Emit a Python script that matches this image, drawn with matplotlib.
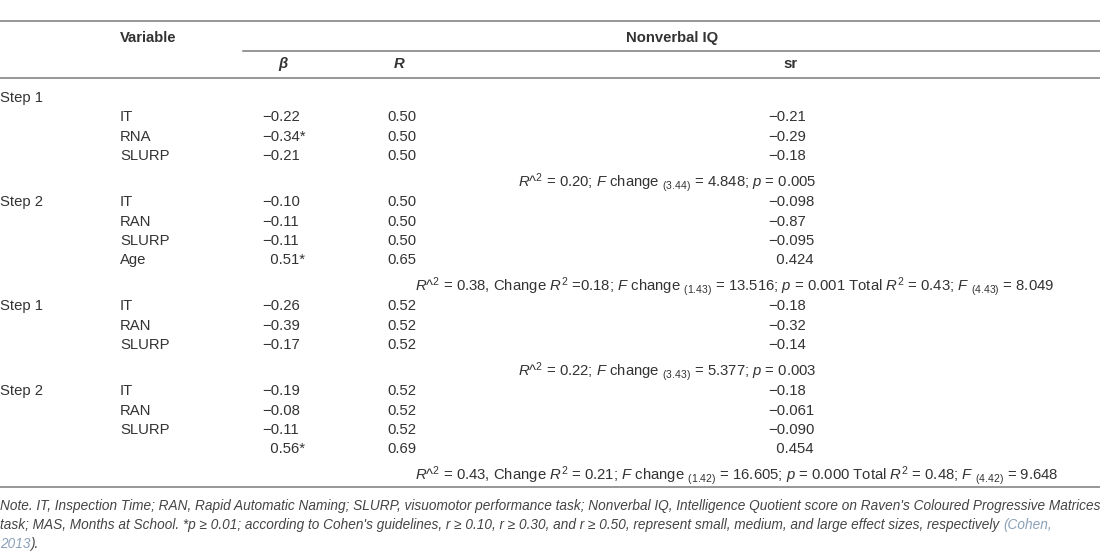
import matplotlib
matplotlib.use("Agg")
import matplotlib.pyplot as plt

plt.rcParams['font.family'] = ['Liberation Sans', 'DejaVu Sans']
plt.rcParams['mathtext.fontset'] = 'custom'
plt.rcParams['mathtext.rm'] = 'Liberation Sans'
plt.rcParams['mathtext.it'] = 'Liberation Sans:italic'
plt.rcParams['mathtext.bf'] = 'Liberation Sans:bold'

# ---- table data ----
step_labels = ["Step 1", "Step 2", "Step 1", "Step 2"]
block_vars = [
    ["IT", "RNA", "SLURP"],
    ["IT", "RAN", "SLURP", "Age"],
    ["IT", "RAN", "SLURP"],
    ["IT", "RAN", "SLURP", ""],
]
block_beta = [
    ["−0.22", "−0.34*", "−0.21"],
    ["−0.10", "−0.11", "−0.11", "0.51*"],
    ["−0.26", "−0.39", "−0.17"],
    ["−0.19", "−0.08", "−0.11", "0.56*"],
]
block_R = [
    ["0.50", "0.50", "0.50"],
    ["0.50", "0.50", "0.50", "0.65"],
    ["0.52", "0.52", "0.52"],
    ["0.52", "0.52", "0.52", "0.69"],
]
block_sr = [
    ["−0.21", "−0.29", "−0.18"],
    ["−0.098", "−0.87", "−0.095", "0.424"],
    ["−0.18", "−0.32", "−0.14"],
    ["−0.18", "−0.061", "−0.090", "0.454"],
]
block_summary = [
    r"$R$^${}^{2}$ = 0.20; $F$ change ${}_{(3.44)}$ = 4.848; $p$ = 0.005",
    r"$R$^${}^{2}$ = 0.38, Change $R^{2}$ =0.18; $F$ change ${}_{(1.43)}$ = 13.516; $p$ = 0.001 Total $R^{2}$ = 0.43; $F$ ${}_{(4.43)}$ = 8.049",
    r"$R$^${}^{2}$ = 0.22; $F$ change ${}_{(3.43)}$ = 5.377; $p$ = 0.003",
    r"$R$^${}^{2}$ = 0.43, Change $R^{2}$ = 0.21; $F$ change ${}_{(1.42)}$ = 16.605; $p$ = 0.000 Total $R^{2}$ = 0.48; $F$ ${}_{(4.42)}$ = 9.648",
]
summary_left = [518, 415, 518, 415]

header_variable = "Variable"
header_group = "Nonverbal IQ"
col_headers = ["β", "R", "sr"]

note_lines = [
    "Note. IT, Inspection Time; RAN, Rapid Automatic Naming; SLURP, visuomotor performance task; Nonverbal IQ, Intelligence Quotient score on Raven's Coloured Progressive Matrices",
    "task; MAS, Months at School. *p ≥ 0.01; according to Cohen's guidelines, r ≥ 0.10, r ≥ 0.30, and r ≥ 0.50, represent small, medium, and large effect sizes, respectively ",
]
note_cite_a = "(Cohen,"
note_cite_b = "2013"
note_end = ")."

# ---- layout ----
W, H = 1100, 558
fig = plt.figure(figsize=(W / 100, H / 100), dpi=100)
ax = fig.add_axes([0, 0, 1, 1])
ax.set_xlim(0, W)
ax.set_ylim(H, 0)
ax.axis('off')

TXT = '#333333'
LINE = '#7a7a7a'
FS = 10.7

x_step, x_var, x_beta, x_R, x_sr = 0, 120, 262, 387, 768
x_beta_h, x_R_h, x_sr_h = 283, 399, 790

# rules
ax.plot([0, W], [20.5, 20.5], color=LINE, lw=1.1)
ax.plot([243, W], [50.5, 50.5], color=LINE, lw=1.1)
ax.plot([0, W], [78, 78], color=LINE, lw=1.1)
ax.plot([0, W], [487, 487], color=LINE, lw=1.1)

# headers
ax.text(x_var, 38, header_variable, fontsize=FS, fontweight='bold', color=TXT, va='center', ha='left')
ax.text(672, 38, header_group, fontsize=FS, fontweight='bold', color=TXT, va='center', ha='center')
ax.text(x_beta_h, 64, col_headers[0], fontsize=FS, fontweight='bold', fontstyle='italic', color=TXT, va='center', ha='center')
ax.text(x_R_h, 64, col_headers[1], fontsize=FS, fontweight='bold', fontstyle='italic', color=TXT, va='center', ha='center')
ax.text(x_sr_h, 64, col_headers[2], fontsize=FS, fontweight='bold', color=TXT, va='center', ha='center')

def cell(x, y, s, pad):
    if pad and s and not s.startswith("−"):
        s = "\u2007" + s
    ax.text(x, y, s, fontsize=FS, color=TXT, va='center', ha='left')

row_h = 19.4
y = 98
for b in range(4):
    ax.text(x_step, y, step_labels[b], fontsize=FS, color=TXT, va='center', ha='left')
    if b == 0:
        y += row_h
    for i in range(len(block_vars[b])):
        ax.text(x_var, y, block_vars[b][i], fontsize=FS, color=TXT, va='center', ha='left')
        cell(x_beta, y, block_beta[b][i], True)
        cell(x_R, y, block_R[b][i], False)
        cell(x_sr, y, block_sr[b][i], True)
        y += row_h
    y += 6.6
    ax.text(summary_left[b], y, block_summary[b], fontsize=FS, color=TXT, va='center', ha='left')
    y += 20

# note
NFS = 9.85
NCOL = '#444444'
LINK = '#8aa0b8'
ax.text(0, 506, note_lines[0], fontsize=NFS, fontstyle='italic', color=NCOL, va='center', ha='left')
t = ax.text(0, 525, note_lines[1], fontsize=NFS, fontstyle='italic', color=NCOL, va='center', ha='left')
ax.annotate(note_cite_a, xy=(1, 0.5), xycoords=t, fontsize=NFS, fontstyle='italic', color=LINK, va='center', ha='left')
t3 = ax.text(0, 544, note_cite_b, fontsize=NFS, fontstyle='italic', color=LINK, va='center', ha='left')
ax.annotate(note_end, xy=(1, 0.5), xycoords=t3, fontsize=NFS, fontstyle='italic', color=NCOL, va='center', ha='left')

fig.savefig("out.png", dpi=100)
